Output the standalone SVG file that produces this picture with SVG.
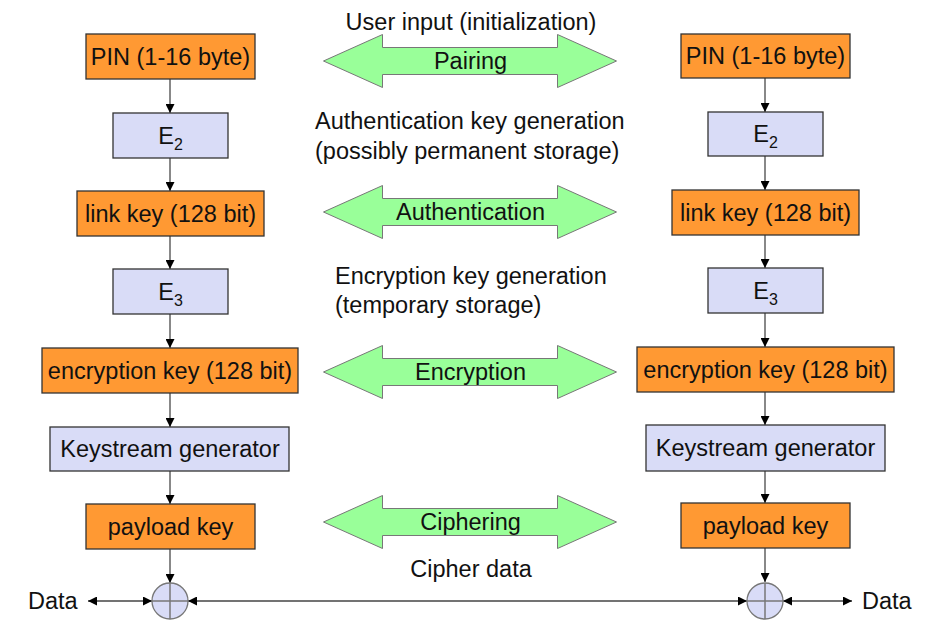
<svg xmlns="http://www.w3.org/2000/svg" xmlns:xlink="http://www.w3.org/1999/xlink" width="937" height="639" viewBox="0 0 937 639">
<style>
text{font-family:"Liberation Sans",Arial,sans-serif;font-size:23.5px;fill:#111}
.c{text-anchor:middle}
.or{fill:#FF9933;stroke:#333;stroke-width:1.3}
.lv{fill:#D9DCF7;stroke:#333;stroke-width:1.3}
.gr{fill:#99FF99;stroke:#777;stroke-width:1}
.ln{stroke:#888;stroke-width:2;fill:none}
.hl{stroke:#444;stroke-width:1.5;fill:none}
.sub{font-size:16px}
</style>
<defs>
<marker id="av" viewBox="0 0 10 10" refX="10" refY="5" markerWidth="9" markerHeight="9" orient="auto" markerUnits="userSpaceOnUse">
<path d="M0,0 L10,5 L0,10 z" fill="#000"/>
</marker>
<marker id="ax" viewBox="0 0 10 10" refX="10" refY="5" markerWidth="9" markerHeight="9" orient="auto-start-reverse" markerUnits="userSpaceOnUse">
<path d="M0,0 L10,5 L0,10 z" fill="#000"/>
</marker>
<polygon id="dbl" points="-147,0 -88,-26.5 -88,-13.5 87,-13.5 87,-26.5 146,0 87,26.5 87,13.5 -88,13.5 -88,26.5"/>
</defs>

<g id="connectors">
<line class="ln" x1="170" y1="79" x2="170" y2="113" marker-end="url(#av)"/>
<line class="ln" x1="170" y1="158" x2="170" y2="191" marker-end="url(#av)"/>
<line class="ln" x1="170" y1="236" x2="170" y2="269" marker-end="url(#av)"/>
<line class="ln" x1="170" y1="314" x2="170" y2="348" marker-end="url(#av)"/>
<line class="ln" x1="170" y1="393" x2="170" y2="427" marker-end="url(#av)"/>
<line class="ln" x1="170" y1="471" x2="170" y2="504" marker-end="url(#av)"/>
<line class="ln" x1="170" y1="549" x2="170" y2="583" marker-end="url(#av)"/>
<line class="ln" x1="765" y1="78" x2="765" y2="112" marker-end="url(#av)"/>
<line class="ln" x1="765" y1="156" x2="765" y2="190" marker-end="url(#av)"/>
<line class="ln" x1="765" y1="235" x2="765" y2="268" marker-end="url(#av)"/>
<line class="ln" x1="765" y1="313" x2="765" y2="347" marker-end="url(#av)"/>
<line class="ln" x1="765" y1="392" x2="765" y2="425" marker-end="url(#av)"/>
<line class="ln" x1="765" y1="471" x2="765" y2="503" marker-end="url(#av)"/>
<line class="ln" x1="765" y1="548" x2="765" y2="582" marker-end="url(#av)"/>
<line class="hl" x1="88" y1="601" x2="152" y2="601" marker-start="url(#ax)" marker-end="url(#ax)"/>
<line class="hl" x1="188" y1="601" x2="747" y2="601" marker-start="url(#ax)" marker-end="url(#ax)"/>
<line class="hl" x1="783" y1="601" x2="852" y2="601" marker-start="url(#ax)" marker-end="url(#ax)"/>
</g>

<g id="pin-left"><rect class="or" x="86" y="34" width="169" height="45"/><text class="c" x="170.5" y="65">PIN (1-16 byte)</text></g>
<g id="e2-left"><rect class="lv" x="113" y="113" width="115" height="45"/><text class="c" x="170.5" y="144">E<tspan class="sub" dy="6">2</tspan></text></g>
<g id="linkkey-left"><rect class="or" x="77" y="191" width="187" height="45"/><text class="c" x="170.5" y="222">link key (128 bit)</text></g>
<g id="e3-left"><rect class="lv" x="113" y="269" width="115" height="45"/><text class="c" x="170.5" y="300">E<tspan class="sub" dy="6">3</tspan></text></g>
<g id="enckey-left"><rect class="or" x="42" y="348" width="256" height="45"/><text class="c" x="170" y="379">encryption key (128 bit)</text></g>
<g id="keystream-left"><rect class="lv" x="50" y="427" width="239" height="44"/><text class="c" x="170" y="457">Keystream generator</text></g>
<g id="payload-left"><rect class="or" x="86" y="504" width="169" height="45"/><text class="c" x="170.5" y="535">payload key</text></g>
<g id="xor-left"><circle class="lv" cx="170" cy="601" r="18" style="stroke:#777"/><line x1="170" y1="583" x2="170" y2="619" stroke="#777" stroke-width="1.5"/><line x1="152" y1="601" x2="188" y2="601" stroke="#777" stroke-width="1.5"/></g>
<g id="data-left"><text x="28" y="609">Data</text></g>

<g id="pin-right"><rect class="or" x="681" y="34" width="169" height="44"/><text class="c" x="765.5" y="64">PIN (1-16 byte)</text></g>
<g id="e2-right"><rect class="lv" x="708" y="112" width="115" height="44"/><text class="c" x="765.5" y="142">E<tspan class="sub" dy="6">2</tspan></text></g>
<g id="linkkey-right"><rect class="or" x="672" y="190" width="187" height="45"/><text class="c" x="765.5" y="221">link key (128 bit)</text></g>
<g id="e3-right"><rect class="lv" x="708" y="268" width="115" height="45"/><text class="c" x="765.5" y="299">E<tspan class="sub" dy="6">3</tspan></text></g>
<g id="enckey-right"><rect class="or" x="637" y="347" width="257" height="45"/><text class="c" x="765.5" y="378">encryption key (128 bit)</text></g>
<g id="keystream-right"><rect class="lv" x="646" y="425" width="239" height="46"/><text class="c" x="765.5" y="456">Keystream generator</text></g>
<g id="payload-right"><rect class="or" x="681" y="503" width="169" height="45"/><text class="c" x="765.5" y="534">payload key</text></g>
<g id="xor-right"><circle class="lv" cx="765" cy="601" r="18" style="stroke:#777"/><line x1="765" y1="583" x2="765" y2="619" stroke="#777" stroke-width="1.5"/><line x1="747" y1="601" x2="783" y2="601" stroke="#777" stroke-width="1.5"/></g>
<g id="data-right"><text x="862" y="609">Data</text></g>

<g id="pairing"><use href="#dbl" xlink:href="#dbl" class="gr" transform="translate(470.5,61)"/><text class="c" x="470.5" y="69">Pairing</text></g>
<g id="authentication"><use href="#dbl" xlink:href="#dbl" class="gr" transform="translate(470.5,212)"/><text class="c" x="470.5" y="220">Authentication</text></g>
<g id="encryption"><use href="#dbl" xlink:href="#dbl" class="gr" transform="translate(470.5,372)"/><text class="c" x="470.5" y="380">Encryption</text></g>
<g id="ciphering"><use href="#dbl" xlink:href="#dbl" class="gr" transform="translate(470.5,522)"/><text class="c" x="470.5" y="530">Ciphering</text></g>

<g id="labels">
<text class="c" x="471" y="30">User input (initialization)</text>
<text x="315" y="129">Authentication key generation</text>
<text x="315" y="159">(possibly permanent storage)</text>
<text x="335" y="284">Encryption key generation</text>
<text x="335" y="313">(temporary storage)</text>
<text class="c" x="471" y="577">Cipher data</text>
</g>
</svg>
